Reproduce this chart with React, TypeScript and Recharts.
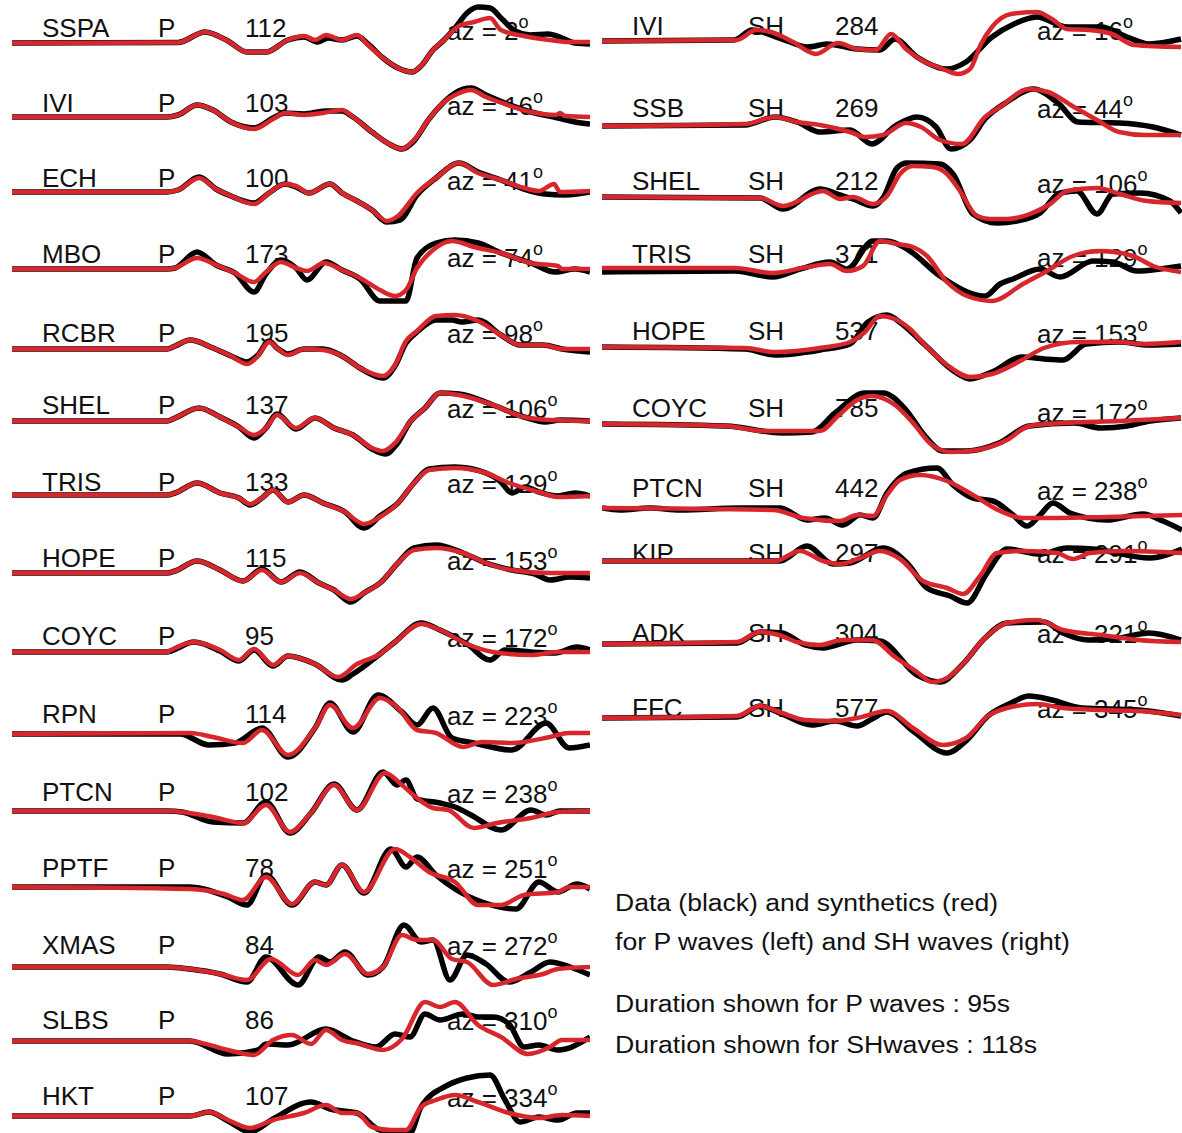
import { LineChart, Line, XAxis, YAxis } from 'recharts'

type Pt = [number, number]

// P waves (left column)
const pStations = ['SSPA', 'IVI', 'ECH', 'MBO', 'RCBR', 'SHEL', 'TRIS', 'HOPE', 'COYC', 'RPN', 'PTCN', 'PPTF', 'XMAS', 'SLBS', 'HKT']
const pAmps = [112, 103, 100, 173, 195, 137, 133, 115, 95, 114, 102, 78, 84, 86, 107]
const pAz = [2, 16, 41, 74, 98, 106, 129, 153, 172, 223, 238, 251, 272, 310, 334]

// SH waves (right column)
const shStations = ['IVI', 'SSB', 'SHEL', 'TRIS', 'HOPE', 'COYC', 'PTCN', 'KIP', 'ADK', 'FFC']
const shAmps = [284, 269, 212, 371, 537, 785, 442, 297, 304, 577]
const shAz = [16, 44, 106, 129, 153, 172, 238, 291, 321, 345]

// observed (black) and synthetic (red) traces: [sample, amplitude]
const sspaObs: Pt[] = [[12,0],[178,0.5],[205,11],[228,2],[247,-9],[266,-9],[288,3],[304,6],[318,1],[328,5],[342,3],[357,7],[368,-1],[383,-15],[398,-25],[412,-29],[421,-23],[433,-7],[444,3],[455,15],[467,30],[478,36],[490,35],[502,24],[515,12],[530,8],[548,9],[562,5],[575,0],[590,-1]]
const sspaSyn: Pt[] = [[12,0],[178,0.5],[205,11],[228,2],[247,-9],[266,-9],[288,3],[304,7],[315,3],[326,8],[342,3],[357,8],[368,-2],[383,-15],[398,-25],[412,-29],[421,-23],[433,-7],[444,3],[459,17],[474,21],[490,25],[501,13],[524,7],[550,3],[569,1],[590,1]]
const iviPObs: Pt[] = [[12,0],[167,0],[178,2],[197,12],[213,7],[231,-5],[254,-11],[273,-1],[285,4],[304,3],[325,6],[342,6],[353,0],[372,-15],[391,-28],[402,-32],[414,-24],[429,-2],[444,15],[455,24],[471,29],[486,22],[505,14],[531,5],[558,-1],[575,-5],[590,-7]]
const iviPSyn: Pt[] = [[12,0],[167,0],[178,2],[197,12],[213,7],[231,-5],[254,-12],[273,-2],[285,4],[304,2],[323,4],[342,7],[353,0],[372,-15],[391,-28],[402,-32],[414,-23],[429,-2],[444,15],[455,22],[471,27],[486,20],[505,13],[531,5],[556,2],[560,4],[565,1],[590,0]]
const echObs: Pt[] = [[12,0],[167,0],[178,2],[199,15],[216,3],[231,-4],[254,-11],[269,-1],[285,8],[296,5],[309,-1],[330,8],[342,-1],[357,-9],[372,-18],[387,-30],[400,-28],[417,-3],[436,14],[459,29],[478,20],[501,12],[524,3],[545,-2],[565,-3],[590,0]]
const echSyn: Pt[] = [[12,0],[167,0],[178,2],[199,14],[216,3],[231,-4],[254,-12],[269,-1],[285,8],[296,6],[309,-1],[330,8],[342,-1],[357,-9],[372,-18],[387,-29],[398,-24],[417,-1],[436,14],[459,29],[478,19],[501,12],[524,4],[539,1],[554,8],[560,0],[590,1]]
const mboObs: Pt[] = [[12,0],[167,0],[175,1],[197,17],[216,4],[235,-4],[254,-23],[266,-5],[281,9],[296,1],[307,-11],[326,7],[342,-1],[360,-10],[380,-32],[406,-32],[417,11],[436,26],[455,29],[478,26],[501,16],[531,6],[555,-3],[575,0],[590,-3]]
const mboSyn: Pt[] = [[12,0],[167,0],[175,1],[197,11],[216,4],[235,-4],[254,-13],[266,-3],[281,7],[296,1],[307,-2],[324,6],[342,-1],[360,-9],[380,-21],[395,-27],[406,-21],[417,1],[433,19],[452,28],[474,22],[501,16],[531,6],[558,3],[562,0],[590,0]]
const rcbrObs: Pt[] = [[12,0],[167,0],[175,3],[190,9],[213,1],[231,-7],[247,-13],[258,-6],[269,8],[277,1],[288,-5],[304,0],[323,0],[342,-7],[360,-19],[383,-29],[395,-17],[406,6],[417,17],[436,29],[452,29],[462,27],[478,29],[501,14],[520,4],[543,4],[562,0],[590,-3]]
const rcbrSyn: Pt[] = [[12,0],[167,0],[175,3],[190,9],[213,1],[231,-7],[247,-15],[258,-7],[269,7],[277,1],[288,-6],[304,0],[323,-1],[342,-7],[360,-19],[383,-27],[395,-16],[406,8],[417,18],[436,33],[455,34],[478,28],[501,14],[520,4],[543,4],[562,0],[590,0]]
const shelPObs: Pt[] = [[12,0],[167,0],[175,3],[199,13],[220,4],[239,-6],[254,-17],[266,-7],[277,7],[296,-8],[315,3],[334,-7],[353,-14],[372,-28],[385,-33],[397,-23],[410,-1],[425,13],[440,28],[459,27],[493,16],[524,4],[545,-1],[560,1],[590,0]]
const shelPSyn: Pt[] = [[12,0],[167,0],[175,3],[199,13],[220,4],[239,-6],[254,-14],[266,-7],[277,6],[296,-7],[315,3],[334,-7],[353,-14],[372,-27],[383,-30],[395,-22],[410,-1],[425,13],[440,28],[459,26],[493,16],[524,4],[550,1],[590,0]]
const trisPObs: Pt[] = [[12,0],[167,0],[175,2],[197,12],[220,2],[239,-3],[250,-10],[262,-3],[273,5],[288,-7],[304,0],[323,-8],[345,-17],[364,-33],[380,-21],[398,-8],[414,12],[429,26],[455,28],[486,22],[500,14],[512,2],[525,8],[539,3],[558,-1],[575,2],[590,-1]]
const trisPSyn: Pt[] = [[12,0],[167,0],[175,2],[197,12],[220,2],[239,-3],[250,-9],[262,-3],[273,5],[288,-7],[304,0],[323,-8],[345,-17],[364,-29],[380,-22],[398,-8],[414,12],[429,25],[455,27],[486,22],[509,12],[539,3],[558,-2],[590,-1]]
const hopePObs: Pt[] = [[12,0],[167,0],[175,2],[197,12],[220,3],[243,-8],[262,4],[281,-9],[300,1],[319,-10],[334,-17],[351,-29],[364,-20],[380,-10],[398,10],[414,25],[436,28],[463,20],[486,10],[512,3],[535,-1],[550,-7],[570,-4],[590,-5]]
const hopePSyn: Pt[] = [[12,0],[167,0],[175,2],[197,12],[220,3],[243,-8],[262,3],[281,-9],[300,0],[319,-10],[334,-17],[351,-26],[364,-20],[380,-10],[398,10],[414,23],[436,25],[463,20],[486,10],[512,3],[550,0],[590,0]]
const coycPObs: Pt[] = [[12,0],[167,0],[171,1],[194,10],[220,1],[239,-9],[254,2],[273,-14],[288,-4],[315,-12],[342,-28],[353,-22],[380,-2],[395,10],[421,29],[440,22],[467,8],[490,-8],[505,2],[531,0],[555,-1],[577,5],[590,2]]
const coycPSyn: Pt[] = [[12,0],[167,0],[171,2],[194,10],[220,2],[239,-8],[254,3],[273,-13],[288,-4],[315,-12],[338,-25],[357,-12],[380,-2],[395,10],[421,28],[440,22],[467,8],[493,0],[531,-3],[558,0],[590,0]]
const rpnObs: Pt[] = [[12,0],[180,0],[209,-11],[235,-9],[262,6],[288,-23],[315,6],[330,31],[353,2],[378,39],[402,22],[417,9],[433,26],[452,-4],[474,-9],[512,-16],[546,11],[569,-14],[590,-11]]
const rpnSyn: Pt[] = [[12,0],[190,1],[213,-3],[243,-9],[262,4],[288,-21],[315,6],[330,29],[353,6],[380,36],[398,26],[417,4],[436,1],[463,-13],[482,-8],[512,-9],[550,-3],[569,1],[590,1]]
const ptcnPObs: Pt[] = [[12,0],[167,0],[182,-1],[213,-11],[243,-12],[266,9],[290,-22],[311,-2],[334,27],[357,1],[383,39],[397,26],[406,31],[417,12],[440,8],[455,4],[471,-4],[501,-19],[531,1],[546,-4],[560,0],[590,0]]
const ptcnPSyn: Pt[] = [[12,0],[167,0],[182,-1],[213,-6],[243,-12],[266,6],[290,-21],[311,-2],[334,26],[357,1],[385,38],[402,26],[417,13],[433,3],[448,1],[474,-17],[497,-12],[531,-7],[558,-1],[590,0]]
const pptfObs: Pt[] = [[12,0],[190,0],[228,-10],[247,-18],[266,12],[292,-18],[315,5],[326,2],[342,22],[364,-6],[391,38],[406,20],[417,30],[436,12],[455,-2],[482,-15],[516,-22],[539,5],[558,-5],[577,3],[590,-2]]
const pptfSyn: Pt[] = [[12,0],[190,-2],[224,-7],[243,-13],[266,10],[292,-17],[315,5],[326,2],[342,22],[364,-5],[395,38],[410,30],[429,15],[455,5],[478,-18],[501,-18],[524,-8],[558,-5],[569,0],[590,0]]
const xmasObs: Pt[] = [[12,0],[167,0],[190,-2],[220,-7],[247,-15],[266,10],[298,-18],[319,10],[330,5],[345,15],[368,-8],[383,0],[404,42],[421,25],[433,27],[450,-13],[467,12],[486,3],[509,-15],[531,-5],[550,5],[570,0],[590,-8]]
const xmasSyn: Pt[] = [[12,0],[167,0],[190,-2],[220,-7],[247,-13],[271,8],[298,-8],[315,7],[326,2],[345,13],[368,-7],[383,0],[402,32],[417,27],[433,27],[452,8],[467,5],[493,-18],[516,-12],[543,-7],[558,-2],[590,0]]
const slbsObs: Pt[] = [[12,0],[190,0],[228,-13],[258,-9],[266,-3],[288,-4],[326,12],[353,0],[376,-6],[395,7],[410,4],[425,27],[440,21],[463,27],[478,24],[493,24],[509,17],[524,-6],[539,-4],[558,-9],[590,4]]
const slbsSyn: Pt[] = [[12,0],[190,0],[197,-1],[228,-9],[254,-14],[273,1],[292,6],[311,-3],[326,11],[342,1],[360,-3],[383,-9],[402,2],[425,39],[440,34],[455,39],[478,16],[501,4],[528,-13],[550,-6],[562,1],[590,1]]
const hktObs: Pt[] = [[12,0],[190,0],[209,4],[228,-5],[250,-16],[273,-3],[311,14],[330,7],[357,3],[380,-14],[410,-17],[421,9],[448,31],[467,38],[490,41],[505,16],[520,-6],[539,-1],[558,-4],[577,3],[590,3]]
const hktSyn: Pt[] = [[12,0],[190,0],[209,4],[228,-4],[250,-12],[273,-4],[304,3],[326,11],[342,3],[357,3],[372,-11],[391,-14],[406,-14],[421,9],[436,16],[455,21],[478,14],[509,3],[539,-2],[562,1],[590,0]]

const iviSObs: Pt[] = [[602,0],[734,1],[752,11],[782,2],[808,-6],[827,-3],[857,-8],[880,-9],[895,2],[917,-16],[947,-28],[966,-21],[992,4],[1014,17],[1037,24],[1067,14],[1101,14],[1127,4],[1149,-3],[1181,2]]
const iviSSyn: Pt[] = [[602,0],[737,1],[756,11],[771,9],[793,-1],[816,-13],[838,-2],[857,-8],[876,-9],[891,7],[906,-8],[925,-21],[943,-28],[958,-33],[970,-28],[981,-3],[992,14],[1011,27],[1037,29],[1052,22],[1067,12],[1089,11],[1112,7],[1134,-4],[1181,-6]]
const ssbObs: Pt[] = [[602,0],[745,1],[775,9],[797,4],[820,-6],[850,-4],[872,-18],[895,0],[917,9],[936,-1],[951,-23],[970,-14],[985,7],[1007,24],[1033,37],[1059,22],[1078,4],[1119,3],[1153,-1],[1181,-9]]
const ssbSyn: Pt[] = [[602,0],[745,2],[775,9],[797,4],[820,1],[850,-6],[865,-11],[883,-9],[906,3],[921,-1],[940,-14],[962,-18],[985,9],[1000,19],[1029,37],[1048,34],[1074,19],[1097,6],[1119,-6],[1145,-9],[1181,-9]]
const shelSObs: Pt[] = [[602,0],[760,-1],[783,-12],[820,8],[840,2],[853,-2],[873,-9],[883,-1],[897,29],[907,34],[940,33],[953,23],[973,-17],[997,-26],[1017,-24],[1040,-16],[1060,4],[1077,6],[1097,-17],[1113,3],[1140,4],[1170,-4],[1181,-16]]
const shelSSyn: Pt[] = [[602,0],[760,-1],[783,-9],[823,6],[840,-2],[853,0],[873,-7],[887,1],[900,23],[913,31],[933,30],[947,23],[960,6],[977,-19],[990,-22],[1007,-22],[1030,-17],[1050,-7],[1067,6],[1097,9],[1120,3],[1147,-4],[1181,-6]]
const trisSObs: Pt[] = [[602,-3],[735,-2],[773,-8],[800,0],[830,7],[847,0],[873,28],[887,28],[907,20],[940,-7],[970,-24],[985,-27],[1000,-15],[1013,-10],[1040,0],[1060,-8],[1093,8],[1113,7],[1137,-2],[1160,0],[1181,3]]
const trisSSyn: Pt[] = [[602,1],[735,1],[773,-4],[807,2],[830,5],[847,-2],[863,3],[880,28],[897,25],[913,22],[927,13],[947,-13],[967,-27],[992,-32],[1023,-15],[1047,-2],[1073,13],[1100,18],[1133,13],[1153,3],[1181,-3]]
const hopeSObs: Pt[] = [[602,0],[745,-2],[775,-8],[820,-3],[850,3],[868,25],[887,32],[902,23],[925,2],[955,-25],[970,-32],[992,-25],[1022,-10],[1044,-12],[1063,-13],[1086,3],[1119,5],[1149,2],[1181,3]]
const hopeSSyn: Pt[] = [[602,0],[745,-1],[775,-5],[820,-1],[850,5],[865,15],[880,31],[895,28],[910,18],[925,2],[947,-18],[970,-30],[992,-27],[1022,-13],[1044,-1],[1078,5],[1119,5],[1142,3],[1181,5]]
const coycSObs: Pt[] = [[602,0],[726,-2],[782,-9],[812,-8],[835,11],[865,31],[883,31],[906,14],[925,-12],[943,-27],[966,-27],[999,-19],[1029,-2],[1074,1],[1101,-4],[1127,-2],[1150,3],[1181,6]]
const coycSSyn: Pt[] = [[602,0],[726,-2],[764,-7],[820,-7],[838,8],[857,24],[872,28],[895,19],[913,1],[932,-21],[951,-28],[977,-26],[1007,-16],[1029,-2],[1063,1],[1119,3],[1181,6]]
const ptcnSObs: Pt[] = [[602,0],[620,-2],[650,0],[680,-2],[740,0],[780,0],[807,-12],[825,-10],[843,-17],[860,-7],[873,-10],[887,15],[907,35],[937,40],[953,23],[973,10],[993,7],[1013,-7],[1027,-18],[1040,-7],[1053,5],[1070,-5],[1107,-12],[1143,-6],[1163,-13],[1182,-22]]
const ptcnSSyn: Pt[] = [[602,0],[773,-2],[803,-10],[840,-13],[857,-7],[873,-8],[887,13],[900,28],[920,33],[947,27],[973,13],[1000,-3],[1023,-10],[1057,-10],[1107,-9],[1182,-7]]
const kipObs: Pt[] = [[602,0],[780,0],[807,15],[833,-3],[850,-2],[883,13],[907,-2],[927,-27],[950,-35],[967,-42],[987,-12],[1007,12],[1040,7],[1067,13],[1093,12],[1150,3],[1182,12]]
const kipSyn: Pt[] = [[602,0],[775,0],[800,10],[823,0],[840,-3],[860,3],[880,10],[900,2],[923,-20],[947,-27],[963,-33],[980,-15],[997,8],[1023,10],[1057,8],[1073,2],[1090,8],[1123,10],[1182,8]]
const adkObs: Pt[] = [[602,0],[737,1],[760,12],[782,11],[805,-1],[823,-4],[857,4],[880,3],[917,-31],[940,-38],[962,-21],[985,6],[1007,21],[1044,22],[1063,11],[1089,4],[1119,6],[1149,11],[1181,4]]
const adkSyn: Pt[] = [[602,0],[737,2],[760,12],[779,9],[797,2],[820,-1],[842,4],[872,4],[895,-13],[917,-28],[932,-38],[947,-34],[962,-21],[985,6],[1007,21],[1037,24],[1063,14],[1101,9],[1138,4],[1181,2]]
const ffcObs: Pt[] = [[602,0],[737,1],[760,12],[782,4],[812,-7],[835,-3],[857,-8],[872,-1],[887,6],[913,-13],[947,-35],[966,-23],[988,2],[1011,15],[1029,22],[1052,18],[1082,10],[1138,8],[1181,2]]
const ffcSyn: Pt[] = [[602,0],[737,2],[760,12],[782,5],[805,-2],[835,-3],[857,0],[887,7],[913,-10],[943,-27],[966,-20],[988,2],[1007,10],[1037,14],[1063,10],[1101,8],[1138,7],[1181,3]]

const pObs = [sspaObs, iviPObs, echObs, mboObs, rcbrObs, shelPObs, trisPObs, hopePObs, coycPObs, rpnObs, ptcnPObs, pptfObs, xmasObs, slbsObs, hktObs]
const pSyn = [sspaSyn, iviPSyn, echSyn, mboSyn, rcbrSyn, shelPSyn, trisPSyn, hopePSyn, coycPSyn, rpnSyn, ptcnPSyn, pptfSyn, xmasSyn, slbsSyn, hktSyn]
const shObs = [iviSObs, ssbObs, shelSObs, trisSObs, hopeSObs, coycSObs, ptcnSObs, kipObs, adkObs, ffcObs]
const shSyn = [iviSSyn, ssbSyn, shelSSyn, trisSSyn, hopeSSyn, coycSSyn, ptcnSSyn, kipSyn, adkSyn, ffcSyn]

// layout (page pixels)
const pBase = [43, 117, 192, 269, 349, 421, 495, 573, 652, 734, 811, 887, 967, 1041, 1116]
const pLabelY = [37, 112, 187, 263, 342, 414, 491, 567, 645, 723, 801, 877, 954, 1029, 1105]
const pAzY = [40, 115, 190, 267, 343, 418, 493, 570, 647, 725, 803, 878, 955, 1030, 1107]
const shBase = [41, 126, 197, 269, 347, 424, 508, 561, 644, 718]
const shLabelY = [35, 117, 190, 263, 340, 417, 497, 562, 642, 717]
const shAzY = [40, 118, 193, 267, 343, 422, 500, 563, 643, 718]

const notes = [
  { text: 'Data (black) and synthetics (red)', y: 911, w: 383 },
  { text: 'for P waves (left) and SH waves (right)', y: 950, w: 455 },
  { text: 'Duration shown for P waves : 95s', y: 1012, w: 395 },
  { text: 'Duration shown for SHwaves : 118s', y: 1053, w: 422 },
]

const FONT = '"Liberation Sans", Arial, Helvetica, sans-serif'
const RED = '#d7272d'
const H = 100

const rows = (pts: Pt[]) => pts.map(([t, v]) => ({ t, v }))

function Trace({ obs, syn, x0, x1, base }: { obs: Pt[]; syn: Pt[]; x0: number; x1: number; base: number }) {
  return (
    <div style={{ position: 'absolute', left: x0, top: base - H / 2 }}>
      <LineChart width={x1 - x0} height={H} margin={{ top: 0, right: 0, bottom: 0, left: 0 }} style={{ overflow: 'visible' }}>
        <XAxis type="number" dataKey="t" domain={[x0, x1]} hide />
        <YAxis type="number" domain={[-H / 2, H / 2]} hide />
        <Line data={rows(obs)} dataKey="v" type="monotone" stroke="#000" strokeWidth={5.5} dot={false} activeDot={false} strokeLinejoin="round" isAnimationActive={false} />
        <Line data={rows(syn)} dataKey="v" type="monotone" stroke={RED} strokeWidth={4.5} dot={false} activeDot={false} strokeLinejoin="round" isAnimationActive={false} />
      </LineChart>
    </div>
  )
}

function Labels() {
  const t = { fontFamily: FONT, fontSize: 26, fill: '#111' }
  return (
    <svg width={1182} height={1133} style={{ position: 'absolute', left: 0, top: 0 }}>
      {pStations.map((s, i) => (
        <g key={'p' + i} style={t}>
          <text x={42} y={pLabelY[i]}>{s}</text>
          <text x={158} y={pLabelY[i]}>P</text>
          <text x={245} y={pLabelY[i]}>{pAmps[i]}</text>
          <text x={447} y={pAzY[i]}>
            {`az = ${pAz[i]}`}
            <tspan fontSize={18} dy={-12}>o</tspan>
          </text>
        </g>
      ))}
      {shStations.map((s, i) => (
        <g key={'s' + i} style={t}>
          <text x={632} y={shLabelY[i]}>{s}</text>
          <text x={748} y={shLabelY[i]}>SH</text>
          <text x={835} y={shLabelY[i]}>{shAmps[i]}</text>
          <text x={1037} y={shAzY[i]}>
            {`az = ${shAz[i]}`}
            <tspan fontSize={18} dy={-12}>o</tspan>
          </text>
        </g>
      ))}
      {notes.map((n, i) => (
        <text key={'n' + i} x={615} y={n.y} textLength={n.w} lengthAdjust="spacingAndGlyphs" style={{ fontFamily: FONT, fontSize: 23, fill: '#111' }}>
          {n.text}
        </text>
      ))}
    </svg>
  )
}

export default function App() {
  return (
    <div style={{ position: 'absolute', left: 0, top: 0, width: 1182, height: 1133, background: '#fff', overflow: 'hidden' }}>
      <Labels />
      {pObs.map((o, i) => (
        <Trace key={'pt' + i} obs={o} syn={pSyn[i]} x0={12} x1={590} base={pBase[i]} />
      ))}
      {shObs.map((o, i) => (
        <Trace key={'st' + i} obs={o} syn={shSyn[i]} x0={602} x1={1182} base={shBase[i]} />
      ))}
    </div>
  )
}
